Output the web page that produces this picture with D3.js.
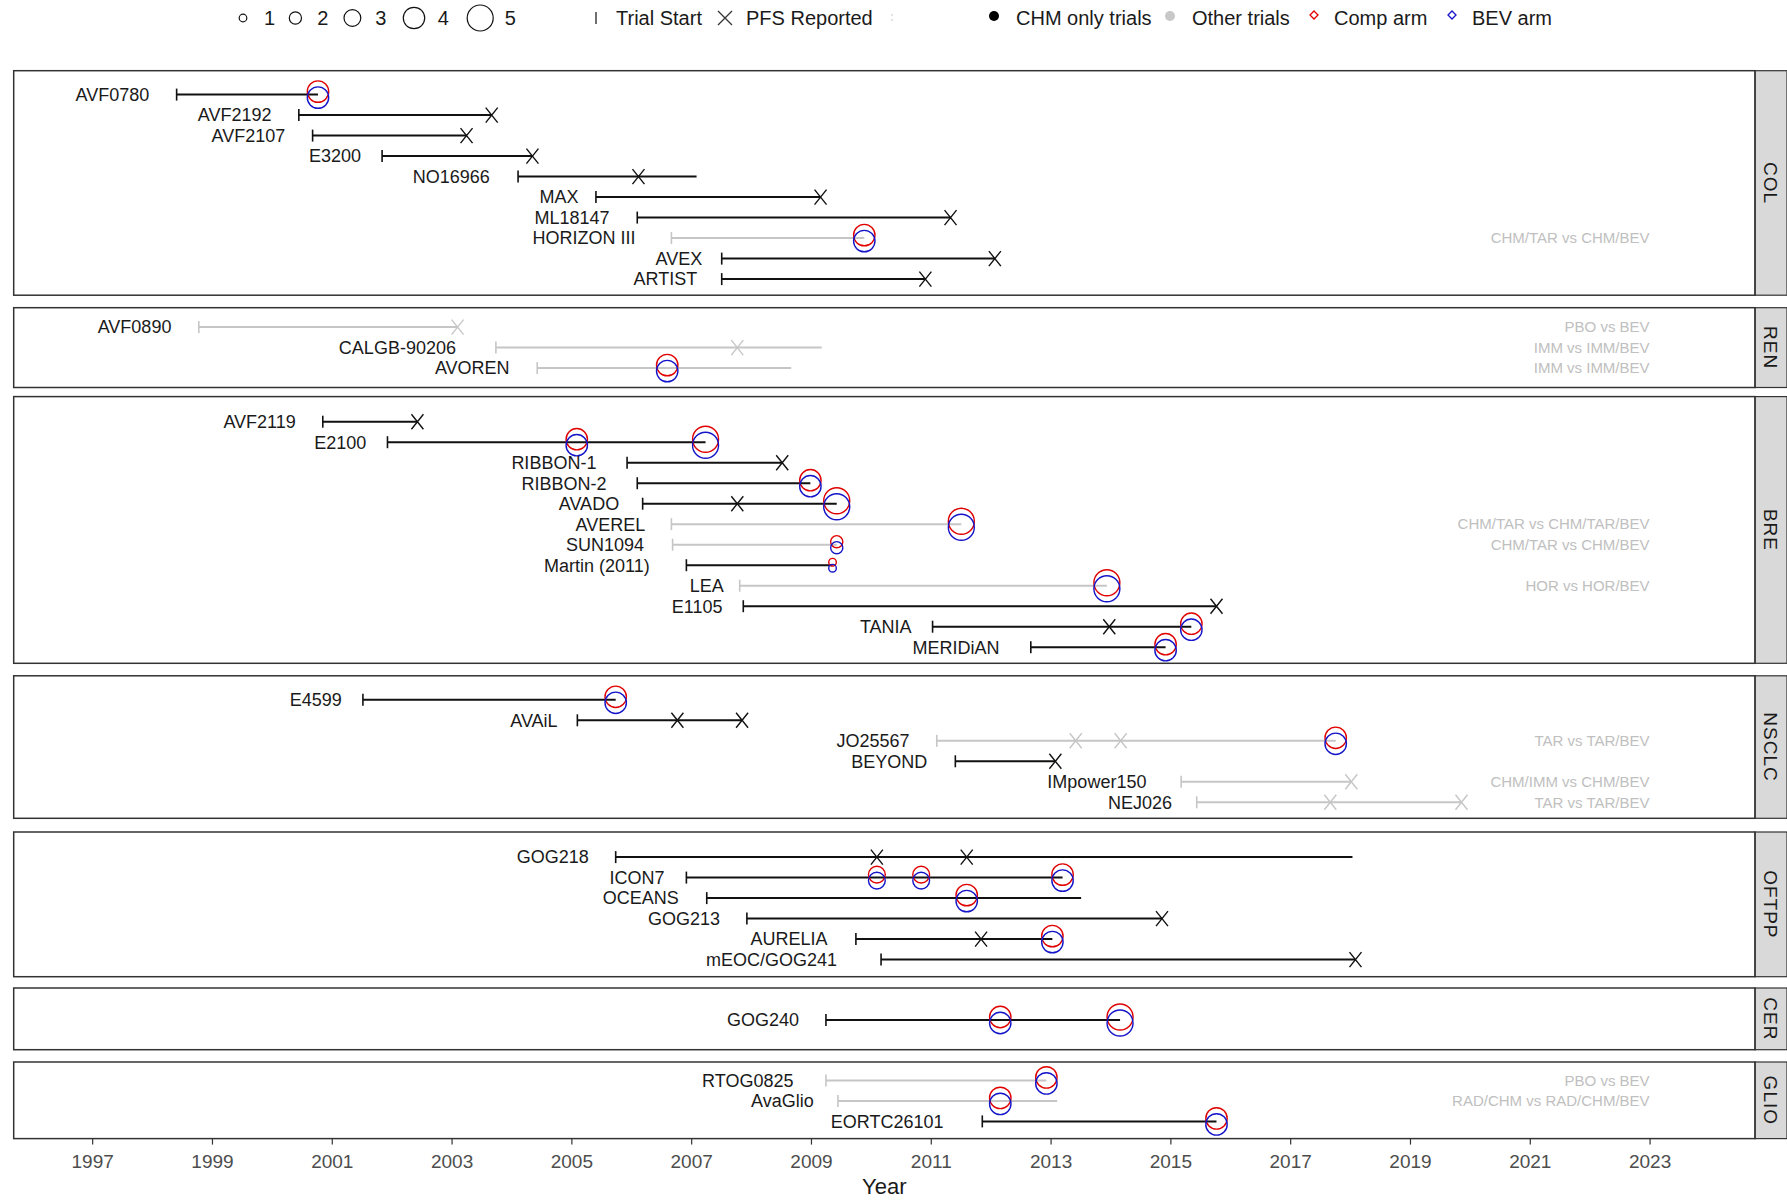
<!DOCTYPE html>
<html>
<head>
<meta charset="utf-8">
<script src="https://cdn.jsdelivr.net/npm/d3@7/dist/d3.min.js"></script>
<style>
  body { margin: 0; background: #fff; }
  svg { display: block; font-family: "Liberation Sans", Arial, sans-serif; }
</style>
</head>
<body>
<svg id="chart" width="1787" height="1200"></svg>
<script>
// ---- data ----------------------------------------------------------------
const panels = ["COL", "REN", "BRE", "NSCLC", "OFTPP", "CER", "GLIO"];

// [trial, panel, start year, end of follow-up line, chemotherapy-only trial]
const trials = [
  ["AVF0780", "COL", 1998.41, 2000.77, true],
  ["AVF2192", "COL", 2000.45, 2003.67, true],
  ["AVF2107", "COL", 2000.68, 2003.25, true],
  ["E3200", "COL", 2001.84, 2004.35, true],
  ["NO16966", "COL", 2004.11, 2007.09, true],
  ["MAX", "COL", 2005.41, 2009.16, true],
  ["ML18147", "COL", 2006.10, 2011.33, true],
  ["HORIZON III", "COL", 2006.67, 2009.89, false],
  ["AVEX", "COL", 2007.51, 2012.07, true],
  ["ARTIST", "COL", 2007.51, 2010.91, true],
  ["AVF0890", "REN", 1998.78, 2003.10, false],
  ["CALGB-90206", "REN", 2003.74, 2009.18, false],
  ["AVOREN", "REN", 2004.43, 2008.67, false],
  ["AVF2119", "BRE", 2000.85, 2002.43, true],
  ["E2100", "BRE", 2001.93, 2007.24, true],
  ["RIBBON-1", "BRE", 2005.93, 2008.52, true],
  ["RIBBON-2", "BRE", 2006.10, 2008.99, true],
  ["AVADO", "BRE", 2006.19, 2009.43, true],
  ["AVEREL", "BRE", 2006.67, 2011.51, false],
  ["SUN1094", "BRE", 2006.69, 2009.43, false],
  ["Martin (2011)", "BRE", 2006.92, 2009.36, true],
  ["LEA", "BRE", 2007.81, 2013.94, false],
  ["E1105", "BRE", 2007.87, 2015.77, true],
  ["TANIA", "BRE", 2011.03, 2015.35, true],
  ["MERIDiAN", "BRE", 2012.67, 2014.92, true],
  ["E4599", "NSCLC", 2001.52, 2005.74, true],
  ["AVAiL", "NSCLC", 2005.10, 2007.85, true],
  ["JO25567", "NSCLC", 2011.10, 2017.76, false],
  ["BEYOND", "NSCLC", 2011.41, 2013.08, true],
  ["IMpower150", "NSCLC", 2015.18, 2018.02, false],
  ["NEJ026", "NSCLC", 2015.44, 2019.86, false],
  ["GOG218", "OFTPP", 2005.74, 2018.04, true],
  ["ICON7", "OFTPP", 2006.92, 2013.20, true],
  ["OCEANS", "OFTPP", 2007.26, 2013.51, true],
  ["GOG213", "OFTPP", 2007.93, 2014.86, true],
  ["AURELIA", "OFTPP", 2009.75, 2013.03, true],
  ["mEOC/GOG241", "OFTPP", 2010.17, 2018.09, true],
  ["GOG240", "CER", 2009.25, 2014.16, true],
  ["RTOG0825", "GLIO", 2009.25, 2012.93, false],
  ["AvaGlio", "GLIO", 2009.45, 2013.11, false],
  ["EORTC26101", "GLIO", 2011.86, 2015.77, true]
];

// PFS reported: [trial, year]
const pfsReported = [
  ["AVF2192", 2003.67], ["AVF2107", 2003.25], ["E3200", 2004.35],
  ["NO16966", 2006.12], ["MAX", 2009.16], ["ML18147", 2011.33],
  ["AVEX", 2012.07], ["ARTIST", 2010.91],
  ["AVF0890", 2003.10], ["CALGB-90206", 2007.77],
  ["AVF2119", 2002.43], ["RIBBON-1", 2008.52], ["AVADO", 2007.77],
  ["E1105", 2015.77], ["TANIA", 2013.98],
  ["AVAiL", 2006.77], ["AVAiL", 2007.85], ["JO25567", 2013.42], ["JO25567", 2014.17],
  ["BEYOND", 2013.08], ["IMpower150", 2018.02], ["NEJ026", 2017.67], ["NEJ026", 2019.86],
  ["GOG218", 2010.10], ["GOG218", 2011.60], ["GOG213", 2014.86],
  ["AURELIA", 2011.84], ["mEOC/GOG241", 2018.09]
];

// Arm-level results: [trial, year, size class 1-5]
const armResults = [
  ["AVF0780", 2000.77, 4], ["HORIZON III", 2009.89, 4], ["AVOREN", 2006.60, 4],
  ["E2100", 2005.09, 4], ["E2100", 2007.24, 5], ["RIBBON-2", 2008.99, 4],
  ["AVADO", 2009.43, 5], ["AVEREL", 2011.51, 5], ["SUN1094", 2009.43, 2],
  ["Martin (2011)", 2009.36, 1], ["LEA", 2013.94, 5], ["TANIA", 2015.35, 4],
  ["MERIDiAN", 2014.92, 4], ["E4599", 2005.74, 4], ["JO25567", 2017.76, 4],
  ["ICON7", 2010.10, 3], ["ICON7", 2010.84, 3], ["ICON7", 2013.20, 4],
  ["OCEANS", 2011.60, 4], ["AURELIA", 2013.03, 4],
  ["GOG240", 2012.16, 4], ["GOG240", 2014.16, 5],
  ["RTOG0825", 2012.93, 4], ["AvaGlio", 2012.16, 4], ["EORTC26101", 2015.77, 4]
];

// Treatment comparison of trials that are not chemotherapy-only
const comparisons = [
  ["HORIZON III", "CHM/TAR vs CHM/BEV"],
  ["AVF0890", "PBO vs BEV"], ["CALGB-90206", "IMM vs IMM/BEV"], ["AVOREN", "IMM vs IMM/BEV"],
  ["AVEREL", "CHM/TAR vs CHM/TAR/BEV"], ["SUN1094", "CHM/TAR vs CHM/BEV"], ["LEA", "HOR vs HOR/BEV"],
  ["JO25567", "TAR vs TAR/BEV"], ["IMpower150", "CHM/IMM vs CHM/BEV"], ["NEJ026", "TAR vs TAR/BEV"],
  ["RTOG0825", "PBO vs BEV"], ["AvaGlio", "RAD/CHM vs RAD/CHM/BEV"]
];

const yearTicks = [1997, 1999, 2001, 2003, 2005, 2007, 2009, 2011, 2013, 2015, 2017, 2019, 2021, 2023];
const sizeLevels = [1, 2, 3, 4, 5];

// ---- layout --------------------------------------------------------------
const W = 1787, H = 1200;
const plotLeft = 13.7, plotRight = 1755, stripW = 32;
// panel vertical extents and first row centre
const panelBox = {
  COL:   { top: 70.7,  bottom: 295.2,  first: 94.6 },
  REN:   { top: 307.7, bottom: 387.5,  first: 327.1 },
  BRE:   { top: 396.6, bottom: 663.3,  first: 421.7 },
  NSCLC: { top: 675.8, bottom: 818.3,  first: 699.8 },
  OFTPP: { top: 832.0, bottom: 976.7,  first: 857.1 },
  CER:   { top: 988.0, bottom: 1049.7, first: 1020.0 },
  GLIO:  { top: 1062.0, bottom: 1138.6, first: 1080.4 }
};
const rowStep = 20.5;
const armOffset = 3; // vertical dodge between comparator and BEV circles

const COLORS = {
  chm: "#111111", other: "#c6c6c6", comp: "#e00000", bev: "#1414c8",
  border: "#333333", strip: "#d9d9d9", note: "#c0c0c0", text: "#1a1a1a", tick: "#4d4d4d"
};

const x = d3.scaleLinear().domain([1995.69, 2024.76]).range([plotLeft, plotRight]);
const r = d3.scaleLinear().domain([1, 5]).range([3.8, 13]);

const svg = d3.select("#chart");
svg.append("rect").attr("width", W).attr("height", H).attr("fill", "#fff");

// row position of every trial inside its panel
const rowY = new Map();
panels.forEach(p => {
  const rows = trials.filter(t => t[1] === p);
  const yRow = d3.scaleLinear().domain([0, 1]).range([panelBox[p].first, panelBox[p].first + rowStep]);
  rows.forEach((t, i) => rowY.set(t[0], yRow(i)));
});
const trialInfo = new Map(trials.map(t => [t[0], t]));
const colorOf = name => trialInfo.get(name)[4] ? COLORS.chm : COLORS.other;

// ---- panels & strips -----------------------------------------------------
panels.forEach(p => {
  const b = panelBox[p];
  svg.append("rect")
    .attr("x", plotRight).attr("y", b.top)
    .attr("width", stripW).attr("height", b.bottom - b.top)
    .attr("fill", COLORS.strip).attr("stroke", COLORS.border).attr("stroke-width", 1.2);
  const cx = plotRight + stripW / 2, cy = (b.top + b.bottom) / 2;
  svg.append("text")
    .attr("transform", `translate(${cx},${cy}) rotate(90)`)
    .attr("text-anchor", "middle").attr("dy", "0.35em")
    .attr("font-size", 19).attr("fill", COLORS.text)
    .attr("letter-spacing", 1)
    .text(p);
});

const marks = svg.append("g");

// follow-up lines
marks.selectAll("line.trial").data(trials).join("line")
  .attr("class", "trial")
  .attr("x1", d => x(d[2])).attr("x2", d => x(d[3]))
  .attr("y1", d => rowY.get(d[0])).attr("y2", d => rowY.get(d[0]))
  .attr("stroke", d => d[4] ? COLORS.chm : COLORS.other)
  .attr("stroke-width", 2);

// trial start ticks
marks.selectAll("line.start").data(trials).join("line")
  .attr("class", "start")
  .attr("x1", d => x(d[2])).attr("x2", d => x(d[2]))
  .attr("y1", d => rowY.get(d[0]) - 6).attr("y2", d => rowY.get(d[0]) + 6)
  .attr("stroke", d => d[4] ? COLORS.chm : COLORS.other)
  .attr("stroke-width", 1.6);

// PFS reported crosses
const cross = (sel, hw, hh) => sel.attr("d", d => {
  const cx = d.cx, cy = d.cy;
  return `M${cx - hw},${cy - hh}L${cx + hw},${cy + hh}M${cx - hw},${cy + hh}L${cx + hw},${cy - hh}`;
});
marks.selectAll("path.pfs")
  .data(pfsReported.map(d => ({ cx: x(d[1]), cy: rowY.get(d[0]), c: colorOf(d[0]) })))
  .join("path").attr("class", "pfs")
  .call(cross, 6, 7.5)
  .attr("fill", "none").attr("stroke", d => d.c).attr("stroke-width", 1.4);

// arm circles: comparator arm (red) and bevacizumab arm (blue)
const armData = armResults.map(d => ({ cx: x(d[1]), cy: rowY.get(d[0]), rad: r(d[2]) }));
marks.selectAll("circle.comp").data(armData).join("circle")
  .attr("class", "comp")
  .attr("cx", d => d.cx).attr("cy", d => d.cy - armOffset).attr("r", d => d.rad)
  .attr("fill", "none").attr("stroke", COLORS.comp).attr("stroke-width", 1.4);
marks.selectAll("circle.bev").data(armData).join("circle")
  .attr("class", "bev")
  .attr("cx", d => d.cx).attr("cy", d => d.cy + armOffset).attr("r", d => d.rad)
  .attr("fill", "none").attr("stroke", COLORS.bev).attr("stroke-width", 1.4);

// trial names, placed left of the start tick
const names = svg.append("g").selectAll("text").data(trials).join("text")
  .attr("y", d => rowY.get(d[0])).attr("dy", "0.35em")
  .attr("font-size", 18).attr("fill", COLORS.text)
  .text(d => d[0]);
names.each(function (d) {
  const w = this.getComputedTextLength();
  d3.select(this).attr("x", x(d[2]) - 6 - 1.29 * w);
});

// comparison notes at the right
svg.append("g").selectAll("text").data(comparisons).join("text")
  .attr("x", x(2023)).attr("y", d => rowY.get(d[0])).attr("dy", "0.35em")
  .attr("text-anchor", "end").attr("font-size", 15).attr("fill", COLORS.note)
  .text(d => d[1]);

// panel borders on top
panels.forEach(p => {
  const b = panelBox[p];
  svg.append("rect")
    .attr("x", plotLeft).attr("y", b.top)
    .attr("width", plotRight - plotLeft).attr("height", b.bottom - b.top)
    .attr("fill", "none").attr("stroke", COLORS.border).attr("stroke-width", 1.5);
});

// ---- x axis --------------------------------------------------------------
const axis = svg.append("g")
  .attr("transform", `translate(0,${panelBox.GLIO.bottom})`)
  .call(d3.axisBottom(x).tickValues(yearTicks).tickFormat(d3.format("d")).tickSize(6).tickPadding(9.5));
axis.select(".domain").remove();
axis.selectAll(".tick line").attr("stroke", COLORS.border).attr("stroke-width", 1.2);
axis.selectAll(".tick text").attr("font-size", 19).attr("fill", COLORS.tick)
  .attr("font-family", "'Liberation Sans', Arial, sans-serif");

svg.append("text")
  .attr("x", (plotLeft + plotRight) / 2).attr("y", 1194)
  .attr("text-anchor", "middle").attr("font-size", 22).attr("fill", COLORS.text)
  .text("Year");

// ---- legends -------------------------------------------------------------
const ly = 18;
const legend = svg.append("g").attr("font-size", 20).attr("fill", COLORS.text);
// size keys laid out edge to edge with a constant gap
let keyX = 243 - r(sizeLevels[0]);
sizeLevels.forEach(s => {
  const cx = keyX + r(s);
  keyX = cx + r(s) + 42.5;
  legend.append("circle").attr("cx", cx).attr("cy", ly).attr("r", r(s))
    .attr("fill", "none").attr("stroke", "#111").attr("stroke-width", 1.2);
  legend.append("text").attr("x", cx + 0.4 * r(s) + 25).attr("y", ly).attr("dy", "0.35em")
    .attr("text-anchor", "middle").text(s);
});

// trial start / PFS keys
legend.append("line").attr("x1", 596).attr("x2", 596).attr("y1", ly - 6).attr("y2", ly + 6)
  .attr("stroke", "#333").attr("stroke-width", 1.4);
legend.append("text").attr("x", 616).attr("y", ly).attr("dy", "0.35em").text("Trial Start");
legend.append("path").datum({ cx: 725, cy: ly }).call(cross, 7, 7)
  .attr("fill", "none").attr("stroke", "#333").attr("stroke-width", 1.3);
legend.append("text").attr("x", 746).attr("y", ly).attr("dy", "0.35em").text("PFS Reported");
legend.append("line").attr("x1", 892).attr("x2", 892).attr("y1", ly - 4).attr("y2", ly + 4)
  .attr("stroke", "#d8d8d8").attr("stroke-width", 1.4).attr("stroke-dasharray", "2,3");

// trial type / arm keys
legend.append("circle").attr("cx", 994).attr("cy", ly - 2).attr("r", 5).attr("fill", "#000");
legend.append("text").attr("x", 1016).attr("y", ly).attr("dy", "0.35em").text("CHM only trials");
legend.append("circle").attr("cx", 1170).attr("cy", ly - 2).attr("r", 5).attr("fill", "#c8c8c8");
legend.append("text").attr("x", 1192).attr("y", ly).attr("dy", "0.35em").text("Other trials");
legend.append("path").attr("d", `M1314,${ly - 7}l4,4l-4,4l-4,-4z`)
  .attr("fill", "none").attr("stroke", COLORS.comp).attr("stroke-width", 1.3);
legend.append("text").attr("x", 1334).attr("y", ly).attr("dy", "0.35em").text("Comp arm");
legend.append("path").attr("d", `M1452,${ly - 7}l4,4l-4,4l-4,-4z`)
  .attr("fill", "none").attr("stroke", COLORS.bev).attr("stroke-width", 1.3);
legend.append("text").attr("x", 1472).attr("y", ly).attr("dy", "0.35em").text("BEV arm");
</script>
</body>
</html>
